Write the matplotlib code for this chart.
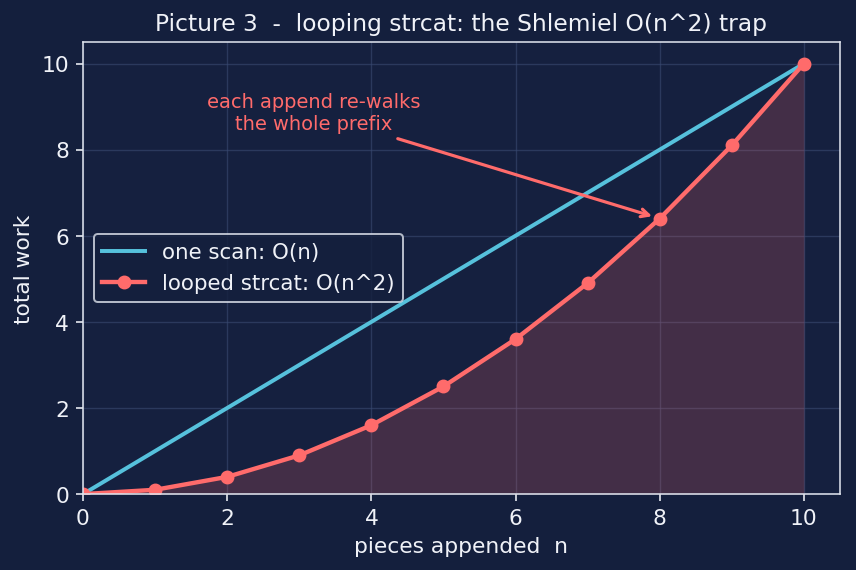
import numpy as np
import matplotlib
matplotlib.use("Agg")
import matplotlib.pyplot as plt

# pieces appended and the total work for each strategy
n_values = [0, 1, 2, 3, 4, 5, 6, 7, 8, 9, 10]
one_scan = [0, 1, 2, 3, 4, 5, 6, 7, 8, 9, 10]
looped = [0, 0.1, 0.4, 0.9, 1.6, 2.5, 3.6, 4.9, 6.4, 8.1, 10]

bg = '#141f3d'
fg = '#f0f2f8'
cyan = '#56c1dc'
red = '#ff6b6b'

fig = plt.figure(figsize=(6, 4), dpi=142.7, facecolor=bg)
ax = fig.add_subplot(111, facecolor='#15203f')

ax.plot(n_values, one_scan, color=cyan, lw=2, label='one scan: O(n)')
ax.plot(n_values, looped, color=red, lw=2.2, marker='o', ms=6,
        label='looped strcat: O(n^2)')
ax.fill_between(n_values, looped, color=red, alpha=0.2, lw=0)

ax.annotate('each append re-walks\nthe whole prefix', xy=(8, 6.4), xytext=(3.2, 8.85),
            color=red, fontsize=9.8, ha='center', va='center',
            arrowprops=dict(arrowstyle='->', color=red, lw=1.6, shrinkB=4))

ax.set_xlim(0, 10.5)
ax.set_ylim(0, 10.5)
ax.set_xticks([0, 2, 4, 6, 8, 10])
ax.set_yticks([0, 2, 4, 6, 8, 10])
ax.grid(True, color='#3a4a72', alpha=0.6, lw=0.7)
ax.set_axisbelow(True)

ax.set_title('Picture 3  -  looping strcat: the Shlemiel O(n^2) trap', color=fg, fontsize=11.8)
ax.set_xlabel('pieces appended  n', color=fg, fontsize=11)
ax.set_ylabel('total work', color=fg, fontsize=11)
ax.tick_params(colors=fg, labelsize=11)
for s in ax.spines.values():
    s.set_color('#dde2ec')

leg = ax.legend(loc='center left', facecolor=bg, edgecolor='#dde2ec', fontsize=10.8)
for t in leg.get_texts():
    t.set_color(fg)

fig.subplots_adjust(left=0.097, right=0.981, top=0.925, bottom=0.133)
fig.savefig('out.png', facecolor=bg)
